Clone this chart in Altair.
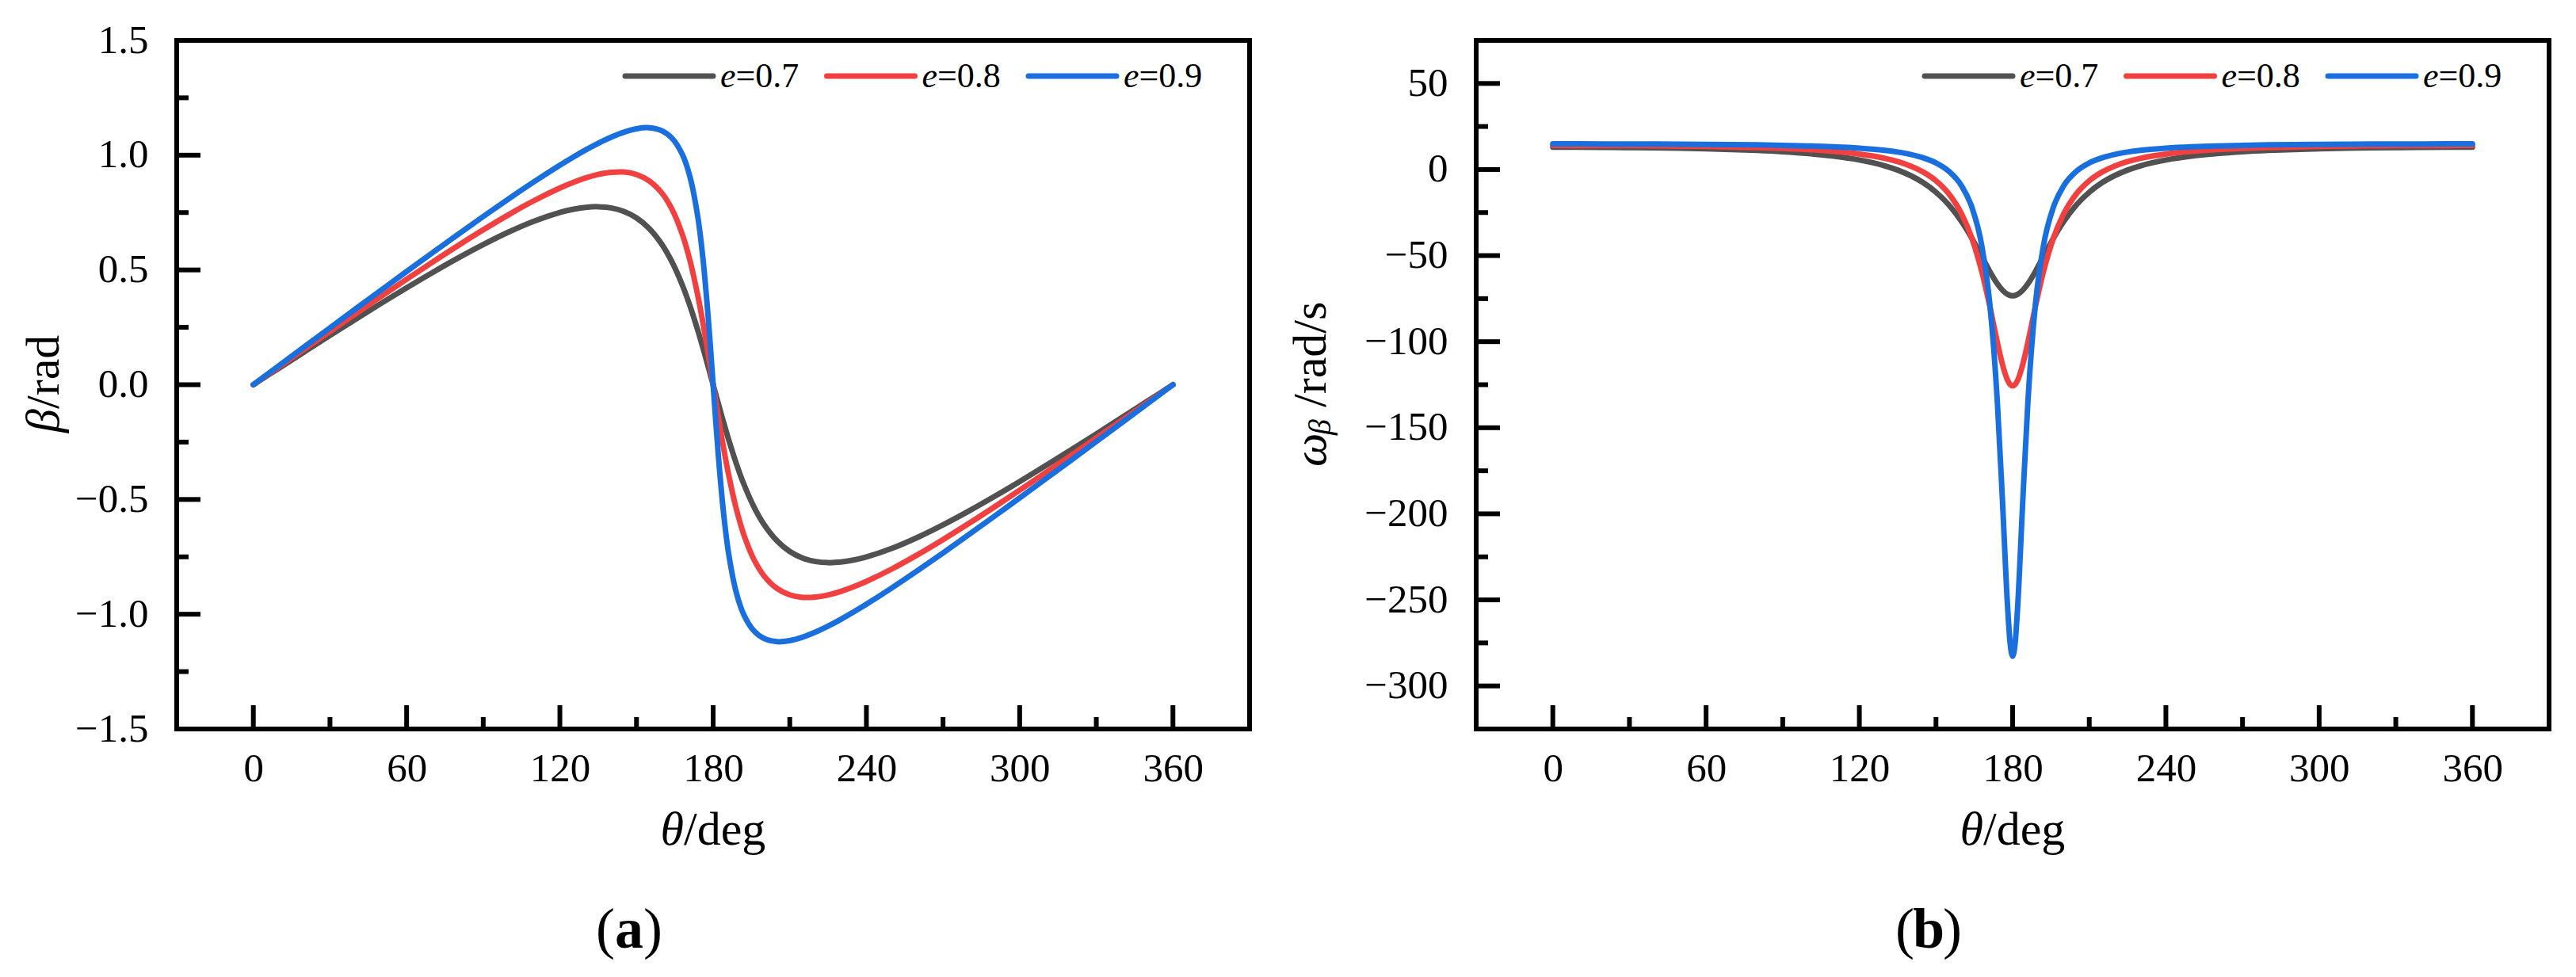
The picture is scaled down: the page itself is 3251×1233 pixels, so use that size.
import altair as alt
import pandas as pd

# ---------------- data ----------------
theta = [0, 10, 20, 30, 40, 50, 60, 70, 80, 90, 100, 110, 120, 125, 130, 135, 140, 145, 150, 155,
         160, 164, 168, 171, 174, 176, 178, 179, 180, 181, 182, 184, 186, 189, 192, 196, 200, 205,
         210, 215, 220, 225, 230, 235, 240, 250, 260, 270, 280, 290, 300, 310, 320, 330, 340, 350, 360]

e_labels = ["0.7", "0.8", "0.9"]

beta_07 = [0, 0.0718, 0.1434, 0.2146, 0.2849, 0.3542, 0.4221, 0.4879, 0.5511, 0.6107, 0.6654, 0.7130,
           0.7506, 0.7640, 0.7727, 0.7754, 0.7703, 0.7551, 0.7266, 0.6803, 0.6105, 0.5329, 0.4325,
           0.3410, 0.2363, 0.1605, 0.0811, 0.0407, 0,
           -0.0407, -0.0811, -0.1605, -0.2363, -0.3410, -0.4325, -0.5329, -0.6105, -0.6803, -0.7266,
           -0.7551, -0.7703, -0.7754, -0.7727, -0.7640, -0.7506, -0.7130, -0.6654, -0.6107, -0.5511,
           -0.4879, -0.4221, -0.3542, -0.2849, -0.2146, -0.1434, -0.0718, 0]
beta_08 = [0, 0.0776, 0.1549, 0.2320, 0.3087, 0.3846, 0.4595, 0.5332, 0.6052, 0.6747, 0.7410, 0.8026,
           0.8571, 0.8805, 0.9005, 0.9160, 0.9254, 0.9266, 0.9159, 0.8880, 0.8340, 0.7622, 0.6529,
           0.5377, 0.3884, 0.2696, 0.1384, 0.0696, 0,
           -0.0696, -0.1384, -0.2696, -0.3884, -0.5377, -0.6529, -0.7622, -0.8340, -0.8880, -0.9159,
           -0.9266, -0.9254, -0.9160, -0.9005, -0.8805, -0.8571, -0.8026, -0.7410, -0.6747, -0.6052,
           -0.5332, -0.4595, -0.3846, -0.3087, -0.2320, -0.1549, -0.0776, 0]
beta_09 = [0, 0.0827, 0.1653, 0.2477, 0.3299, 0.4118, 0.4932, 0.5740, 0.6540, 0.7328, 0.8100, 0.8849,
           0.9563, 0.9901, 1.0221, 1.0517, 1.0781, 1.1000, 1.1151, 1.1195, 1.1062, 1.0728, 1.0018,
           0.9028, 0.7309, 0.5509, 0.3028, 0.1556, 0,
           -0.1556, -0.3028, -0.5509, -0.7309, -0.9028, -1.0018, -1.0728, -1.1062, -1.1195, -1.1151,
           -1.1000, -1.0781, -1.0517, -1.0221, -0.9901, -0.9563, -0.8849, -0.8100, -0.7328, -0.6540,
           -0.5740, -0.4932, -0.4118, -0.3299, -0.2477, -0.1653, -0.0827, 0]

omega_07 = [12.94, 12.92, 12.85, 12.74, 12.58, 12.36, 12.05, 11.64, 11.09, 10.33, 9.28, 7.79, 5.57,
            4.05, 2.13, -0.31, -3.48, -7.64, -13.16, -20.51, -30.22, -39.83, -50.72, -59.00, -66.31,
            -70.05, -72.47, -73.10, -73.30,
            -73.10, -72.47, -70.05, -66.31, -59.00, -50.72, -39.83, -30.22, -20.51, -13.16, -7.64,
            -3.48, -0.31, 2.13, 4.05, 5.57, 7.79, 9.28, 10.33, 11.09, 11.64, 12.05, 12.36, 12.58,
            12.74, 12.85, 12.92, 12.94]
omega_08 = [13.96, 13.95, 13.91, 13.84, 13.74, 13.59, 13.39, 13.12, 12.76, 12.26, 11.56, 10.53, 8.98,
            7.88, 6.46, 4.59, 2.06, -1.46, -6.52, -14.07, -25.72, -39.74, -59.73, -79.02, -100.25,
            -113.09, -122.30, -124.82, -125.66,
            -124.82, -122.30, -113.09, -100.25, -79.02, -59.73, -39.74, -25.72, -14.07, -6.52, -1.46,
            2.06, 4.59, 6.46, 7.88, 8.98, 10.53, 11.56, 12.26, 12.76, 13.12, 13.39, 13.59, 13.74,
            13.84, 13.91, 13.95, 13.96]
omega_09 = [14.88, 14.88, 14.86, 14.82, 14.77, 14.70, 14.61, 14.48, 14.30, 14.06, 13.72, 13.21, 12.43,
            11.87, 11.14, 10.15, 8.79, 6.81, 3.82, -1.00, -9.47, -21.72, -44.79, -77.10, -134.54,
            -191.67, -253.22, -274.90, -282.74,
            -274.90, -253.22, -191.67, -134.54, -77.10, -44.79, -21.72, -9.47, -1.00, 3.82, 6.81,
            8.79, 10.15, 11.14, 11.87, 12.43, 13.21, 13.72, 14.06, 14.30, 14.48, 14.61, 14.70, 14.77,
            14.82, 14.86, 14.88, 14.88]

x_major = [0, 60, 120, 180, 240, 300, 360]
x_minor = [30, 90, 150, 210, 270, 330]
beta_major = [-1.5, -1.0, -0.5, 0.0, 0.5, 1.0, 1.5]
beta_minor = [-1.25, -0.75, -0.25, 0.25, 0.75, 1.25]
omega_major = [-300, -250, -200, -150, -100, -50, 0, 50]
omega_minor = [-275, -225, -175, -125, -75, -25, 25]

colors = ["#515151", "#F14040", "#1A6FDF"]

# ---------------- layout / style ----------------
W, H = 1354, 869
FONT = "Liberation Serif"
TICK_FS = 51
TITLE_FS = 60
LEG_FS = 44
one = pd.DataFrame({"k": [0]})
xscale = alt.Scale(domain=[-30, 390], nice=False, zero=False)
ax_x = alt.Axis(values=x_major, title=None, ticks=False, domain=False, grid=False,
                labelFont=FONT, labelFontSize=TICK_FS, labelColor="black", labelPadding=25,
                labelFlush=False, labelOverlap=False, format="d")


def txt(text, x, y, size, align="left", baseline="alphabetic", angle=0,
        style="normal", weight="normal"):
    return alt.Chart(one).mark_text(
        text=text, font=FONT, fontSize=size, fontStyle=style, fontWeight=weight,
        align=align, baseline=baseline, angle=angle, color="black"
    ).encode(x=alt.value(x), y=alt.value(y))


def panel(series, ydomain, ymajor, yminor, yfmt, ytitle_layers, letter, interp):
    yscale = alt.Scale(domain=ydomain, nice=False, zero=False)
    ax_y = alt.Axis(values=ymajor, title=None, ticks=False, domain=False, grid=False,
                    labelFont=FONT, labelFontSize=TICK_FS, labelColor="black", labelPadding=36,
                    labelFlush=False, labelOverlap=False, format=yfmt)
    rows = []
    for lab, vals in zip(e_labels, series):
        for t, v in zip(theta, vals):
            rows.append({"theta": t, "val": v, "e": lab})
    df = pd.DataFrame(rows)

    lines = alt.Chart(df).mark_line(
        strokeWidth=7, interpolate=interp, strokeCap="round", strokeJoin="round"
    ).encode(
        x=alt.X("theta:Q", scale=xscale, axis=ax_x),
        y=alt.Y("val:Q", scale=yscale, axis=ax_y),
        color=alt.Color("e:N", scale=alt.Scale(domain=e_labels, range=colors), legend=None),
    )

    def xt(vals, length):
        return alt.Chart(pd.DataFrame({"theta": vals})).mark_rule(color="black", strokeWidth=6).encode(
            x=alt.X("theta:Q", scale=xscale, axis=ax_x), y=alt.value(H), y2=alt.value(H - length))

    def yt(vals, length):
        return alt.Chart(pd.DataFrame({"val": vals})).mark_rule(color="black", strokeWidth=6).encode(
            y=alt.Y("val:Q", scale=yscale, axis=ax_y), x=alt.value(0), x2=alt.value(length))

    layers = [lines, xt(x_major, 30), xt(x_minor, 15), yt(ymajor, 30), yt(yminor, 15)]

    # legend (inside, top right)
    leg_x0, leg_step, sym_len, leg_y = 566, 254.5, 111, 45
    for i, (lab, col) in enumerate(zip(e_labels, colors)):
        x0 = leg_x0 + i * leg_step
        layers.append(alt.Chart(one).mark_rule(color=col, strokeWidth=7, strokeCap="round").encode(
            x=alt.value(x0), x2=alt.value(x0 + sym_len), y=alt.value(leg_y)))
        layers.append(txt("e", x0 + sym_len + 9, leg_y + 14, LEG_FS, style="italic"))
        layers.append(txt("=" + lab, x0 + sym_len + 9 + 19.5, leg_y + 14, LEG_FS))

    # x title  θ/deg
    layers.append(txt("θ", 640, 1015, TITLE_FS, align="right", style="italic"))
    layers.append(txt("/deg", 640, 1015, TITLE_FS, align="left"))
    layers += ytitle_layers

    # caption (a)/(b)
    cap_x, cap_y, cap_fs = 571, 1145, 72
    layers.append(txt("(", cap_x - 18, cap_y, cap_fs, align="right"))
    layers.append(txt(letter, cap_x, cap_y, cap_fs, align="center", weight="bold"))
    layers.append(txt(")", cap_x + 18, cap_y, cap_fs, align="left"))

    return alt.layer(*layers).properties(width=W, height=H)


left_title = [
    txt("β", -167, 465, TITLE_FS, align="right", baseline="middle", angle=270, style="italic"),
    txt("/rad", -167, 465, TITLE_FS, align="left", baseline="middle", angle=270),
]
right_title = [
    txt("ω", -208, 538, TITLE_FS, align="left", baseline="middle", angle=270, style="italic"),
    txt("β", -196, 498, 40, align="left", baseline="middle", angle=270, style="italic"),
    txt("/rad/s", -208, 463, TITLE_FS, align="left", baseline="middle", angle=270),
]

pa = panel([beta_07, beta_08, beta_09], [-1.5, 1.5], beta_major, beta_minor, ".1f",
           left_title, "a", "catmull-rom")
pb = panel([omega_07, omega_08, omega_09], [-325, 75], omega_major, omega_minor, "d",
           right_title, "b", "monotone")

chart = alt.hconcat(pa, pb, spacing=286, bounds="flush").properties(
    padding={"left": 15, "top": 14, "right": 10, "bottom": 5}
).configure_view(stroke="black", strokeWidth=6)

chart.save("out.html", embed_options={"renderer": "svg", "actions": False})
